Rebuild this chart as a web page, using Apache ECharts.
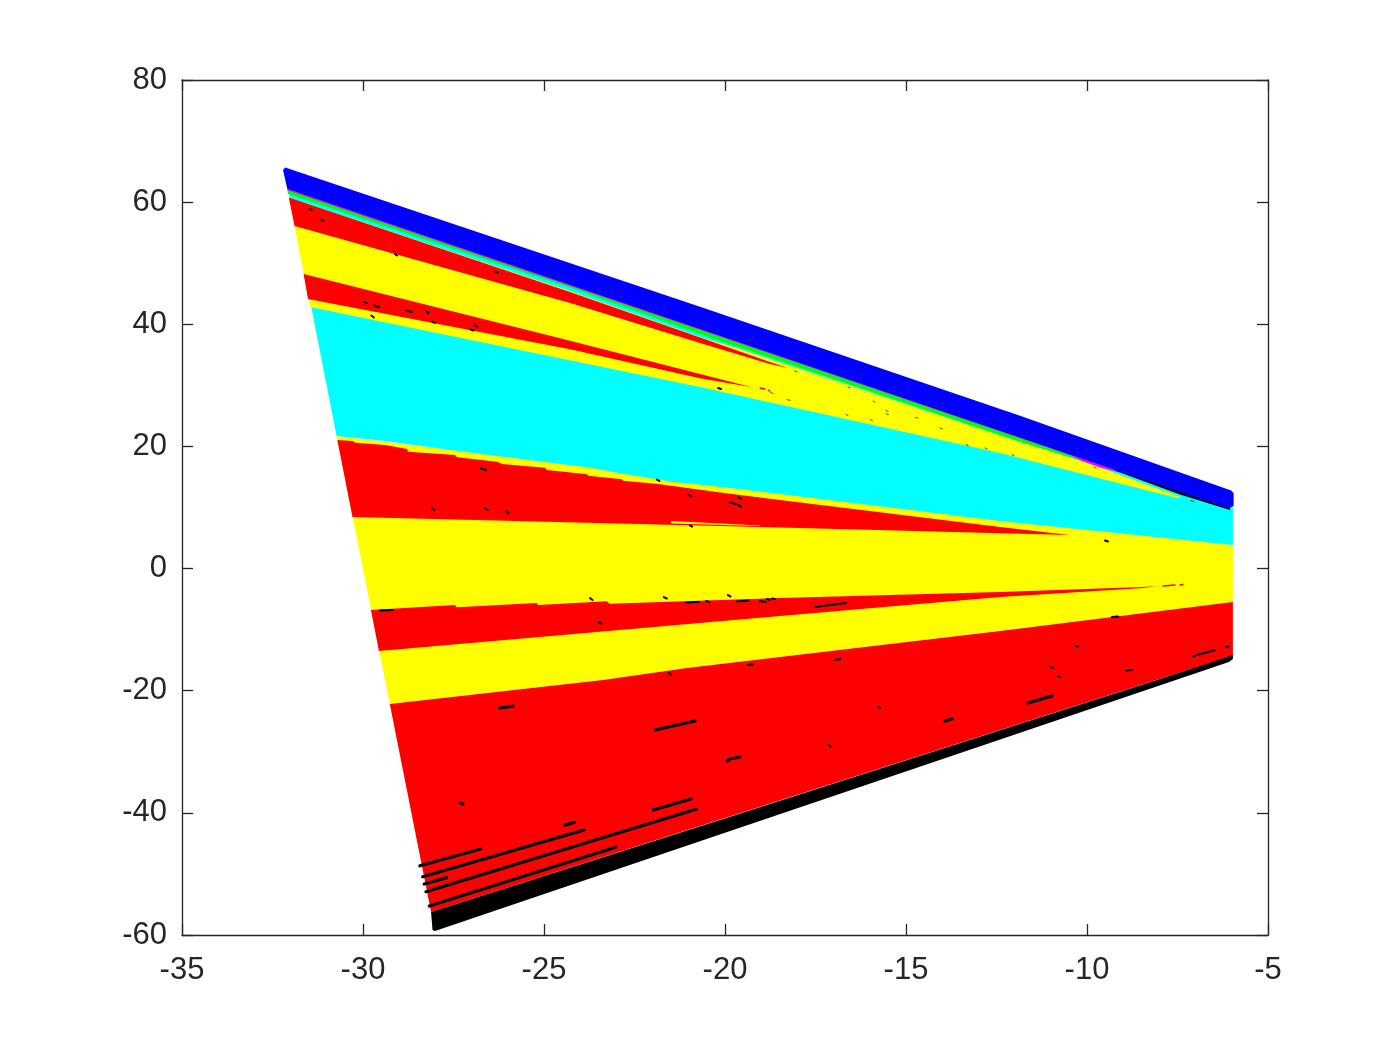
<!DOCTYPE html>
<html><head><meta charset="utf-8">
<style>html,body{margin:0;padding:0;background:#fff}#c{width:1400px;height:1050px}</style>
<script src="https://cdn.jsdelivr.net/npm/echarts@6/dist/echarts.min.js"></script>
</head><body><div id="c"></div>
<script>
const xTicks=[-35,-30,-25,-20,-15,-10,-5];
const yTicks=[-60,-40,-20,0,20,40,60,80];

const yellowMid=[[-30.73,21.71],[-5.97,3.86],[-5.97,-5.48],[-12.40,-10.22],[-18.48,-14.48],[-21.05,-16.28],[-23.37,-18.25],[-29.26,-22.18]];
const cyanBand=[[-32.07,62.15],[-5.97,9.92],[-5.97,3.86],[-12.40,7.79],[-18.48,12.21],[-20.41,13.57],[-21.44,14.22],[-22.62,15.32],[-23.81,16.58],[-24.92,17.40],[-26.35,18.48],[-27.73,19.53],[-29.39,20.89],[-30.73,21.71]];
const yellowUpper=[[-32.05,60.76],[-24.28,45.45],[-20.69,37.92],[-19.59,35.95],[-11.85,20.72],[-10.06,17.45],[-7.38,11.64],[-7.51,11.55],[-12.40,18.92],[-20.69,29.73],[-31.46,42.83]];
const redWedge1=[[-32.05,60.76],[-24.28,45.29],[-20.69,37.84],[-18.76,33.82],[-18.26,32.84],[-18.76,33.50],[-20.69,36.93],[-24.28,43.48],[-31.89,56.09]];
const redWedge2=[[-31.64,48.23],[-24.28,37.31],[-20.69,31.86],[-19.25,29.68],[-20.69,31.15],[-24.28,35.90],[-31.52,44.14]];
const greenBand=[[-32.09,62.15],[-10.06,17.94],[-10.06,17.53],[-11.85,20.77],[-20.69,38.41],[-24.28,46.02],[-32.07,61.33]];
const magentaBand=[[-32.09,62.15],[-10.14,18.10],[-9.09,15.97],[-9.09,15.73],[-9.64,16.55],[-10.14,17.61],[-10.47,18.58],[-32.09,61.95]];
const blackStrip=[[-9.23,16.30],[-6.05,9.92],[-6.05,9.59],[-7.43,12.13],[-9.23,16.06]];
const blueBand=[[-32.21,65.26],[-32.15,65.67],[-20.69,42.88],[-11.85,25.03],[-6.02,12.78],[-5.95,12.37],[-5.95,10.24],[-6.08,9.83],[-32.09,62.15]];
const redMid=[[-30.71,21.05],[-30.28,20.89],[-30.22,20.61],[-29.39,20.23],[-28.78,19.58],[-28.76,19.14],[-27.46,18.59],[-27.40,18.22],[-26.30,17.50],[-26.16,17.12],[-24.97,16.51],[-24.92,16.14],[-23.81,15.43],[-23.78,15.21],[-22.85,14.62],[-22.82,14.39],[-21.85,13.85],[-20.08,12.42],[-18.48,11.23],[-12.40,6.81],[-10.47,5.50],[-19.03,6.81],[-30.29,8.44]];
const yellowSliver=[[-21.49,7.79],[-19.03,7.05],[-19.03,6.97],[-21.49,7.38]];
const redWedge3=[[-29.78,-6.79],[-27.46,-5.97],[-27.41,-6.34],[-25.20,-5.64],[-25.16,-5.97],[-23.27,-5.36],[-23.18,-5.75],[-18.48,-4.82],[-12.40,-3.84],[-8.45,-3.02],[-8.07,-2.86],[-8.45,-3.18],[-12.40,-4.66],[-18.48,-7.77],[-29.56,-13.50]];
const redLower=[[-29.26,-22.18],[-23.37,-18.25],[-21.05,-16.28],[-18.48,-14.48],[-12.40,-10.22],[-5.97,-5.48],[-5.97,-14.23],[-28.12,-56.24]];
const blackLower=[[-28.12,-56.24],[-20.14,-41.17],[-8.07,-18.25],[-5.97,-14.15],[-5.97,-14.81],[-6.08,-15.30],[-28.01,-59.35],[-28.08,-59.18]];

const layers=[
 [yellowMid,'#ffff00'],[cyanBand,'#00ffff'],[yellowUpper,'#ffff00'],[redWedge1,'#ff0000'],[redWedge2,'#ff0000'],
 [greenBand,'#00ff00'],[magentaBand,'#ff00ff'],[blackStrip,'#000000'],[blueBand,'#0000ff'],
 [redMid,'#ff0000'],[yellowSliver,'#ffff00'],[redWedge3,'#ff0000'],[redLower,'#ff0000'],[blackLower,'#000000']
];

const blackThick=[[-28.43,-48.66,-26.75,-45.92],[-28.35,-50.46,-23.89,-42.81],[-28.31,-51.65,-27.69,-50.62],[-28.26,-52.91,-20.80,-39.42],[-28.17,-55.26,-23.02,-45.64],[-21.98,-39.54,-20.94,-37.73],[-24.42,-42.04,-24.16,-41.55],[-27.31,-38.39,-27.24,-38.55],[-21.93,-26.44,-20.83,-24.96],[-26.22,-22.83,-25.86,-22.51],[-19.86,-31.18,-19.59,-30.86],[-19.94,-31.51,-19.91,-31.35],[-11.63,-22.01,-10.97,-20.87],[-13.92,-24.96,-13.73,-24.63]];
const blackMedium=[[-6.96,-14.15,-6.46,-13.34],[-7.07,-14.37,-7.02,-14.31],[-6.16,-12.84,-6.10,-12.80],[-10.30,-12.68,-10.25,-12.76],[-10.99,-16.12,-10.94,-16.28],[-10.80,-17.59,-10.75,-17.76],[-8.92,-16.69,-8.76,-16.61],[-9.31,-7.93,-9.14,-7.85],[-17.13,-28.89,-17.08,-29.22],[-15.77,-22.67,-15.72,-22.83],[-16.96,-14.97,-16.82,-14.81],[-19.36,-15.79,-19.23,-15.71],[-21.55,-17.10,-21.49,-17.43],[-17.51,-6.29,-16.66,-5.64],[-9.50,4.59,-9.42,4.43],
 [-26.74,16.38,-26.60,16.14],[-28.09,9.92,-28.03,9.59],[-26.63,9.92,-26.56,9.59],[-26.05,9.43,-25.98,9.10],[-21.88,14.58,-21.81,14.34],[-21.01,12.05,-20.94,11.80],[-19.64,11.64,-19.56,11.47],[-19.86,10.82,-19.70,10.57],[-19.64,10.41,-19.56,10.16],[-20.97,7.05,-20.91,6.89],
 [-29.53,-6.87,-29.17,-6.79],[-23.73,-4.82,-23.66,-5.15],[-23.49,-8.75,-23.42,-9.00],[-21.69,-4.66,-21.61,-4.90],[-21.08,-5.56,-20.72,-5.48],[-20.52,-5.31,-20.44,-5.48],[-19.92,-4.33,-19.85,-4.57],[-19.67,-5.39,-19.36,-5.23],[-19.03,-5.31,-18.87,-5.48],[-18.84,-4.98,-18.76,-5.10],[-18.70,-4.90,-18.62,-4.98],
 [-31.48,58.88,-31.42,58.71],[-31.16,57.16,-31.10,56.99],[-29.12,51.51,-29.06,51.26],[-29.97,43.73,-29.90,43.48],[-29.70,43.08,-29.56,42.83],[-28.81,42.26,-28.65,42.01],[-28.26,42.17,-28.19,41.85],[-29.77,41.44,-29.70,41.11],[-28.08,40.37,-28.01,40.26],[-26.92,39.80,-26.84,39.64],[-27.03,39.15,-26.95,38.98],[-26.35,48.64,-26.28,48.48],[-20.19,29.57,-20.11,29.40]];
const blackFaint=[[-18.74,28.83,-18.67,28.67],[-18.29,27.68,-18.20,27.52],[-18.07,32.35,-18.01,32.19],[-16.66,25.23,-16.60,25.06],[-15.99,24.41,-15.93,24.24],[-16.60,29.73,-16.54,29.57],[-15.91,27.44,-15.85,27.27],[-15.55,25.88,-15.49,25.72],[-15.55,25.39,-15.49,25.23],[-14.74,24.74,-14.67,24.65],[-14.06,23.02,-13.99,22.85],[-13.34,20.31,-13.28,20.15],[-12.82,19.74,-12.76,19.58],[-12.07,18.68,-12.02,18.51],[-9.81,16.63,-9.75,16.47],[-7.13,11.14,-7.05,10.98]];
const redDashes=[[-7.90,-2.86,-7.57,-2.69],[-7.43,-2.69,-7.35,-2.61],[-19.03,29.57,-18.90,29.40],[-18.81,29.24,-18.76,29.07]];

const chart=echarts.init(document.getElementById('c'),null,{renderer:'canvas'});
const ink='#262626';
const fontFamily='"Liberation Sans",Arial,sans-serif';
function xAxis(position,labels){return {type:'value',position,min:-35,max:-5,interval:5,
  axisLine:{show:true,onZero:false,lineStyle:{color:ink,width:1.3}},
  axisTick:{show:true,inside:true,length:11,lineStyle:{color:ink,width:1.3}},
  splitLine:{show:false},
  axisLabel:{show:labels,margin:20,color:ink,fontSize:31,fontFamily,customValues:xTicks,formatter:v=>String(v)}};}
function yAxis(position,labels){return {type:'value',position,min:-60,max:80,interval:20,
  axisLine:{show:true,onZero:false,lineStyle:{color:ink,width:1.3}},
  axisTick:{show:true,inside:true,length:11,lineStyle:{color:ink,width:1.3}},
  splitLine:{show:false},
  axisLabel:{show:labels,margin:15,color:ink,fontSize:31,fontFamily,customValues:yTicks,formatter:v=>String(v)}};}
function segSeries(list,color,width){return {type:'custom',silent:true,xAxisIndex:0,yAxisIndex:0,clip:false,z:5,
  data:list,encode:{x:[0,2],y:[1,3]},
  renderItem:(p,api)=>{const a=api.coord([api.value(0),api.value(1)]),b=api.coord([api.value(2),api.value(3)]);
    return {type:'line',shape:{x1:a[0],y1:a[1],x2:b[0],y2:b[1]},style:{stroke:color,lineWidth:width,lineCap:'round'}};}};}
chart.setOption({
 animation:false,backgroundColor:'#fff',
 grid:{left:182,right:132,top:80,bottom:115},
 xAxis:[xAxis('bottom',true),xAxis('top',false)],
 yAxis:[yAxis('left',true),yAxis('right',false)],
 series:[
  {type:'custom',silent:true,xAxisIndex:0,yAxisIndex:0,clip:false,z:2,
   data:layers.map(l=>l[0][0]),encode:{x:0,y:1},
   renderItem:(p,api)=>{const l=layers[p.dataIndex];
     return {type:'polygon',shape:{points:l[0].map(v=>api.coord(v))},style:{fill:l[1]}};}},
  segSeries(blackThick,'#000',3.2),
  segSeries(blackMedium,'#000',2),
  segSeries(blackFaint,'#555500',1),
  segSeries(redDashes,'#ff0000',1.4)
 ]
});
</script></body></html>
